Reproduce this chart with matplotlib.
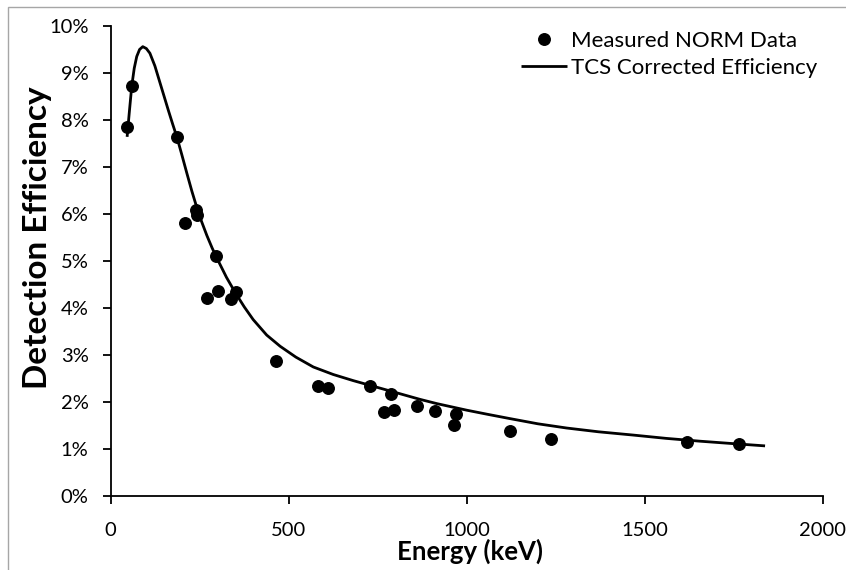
import matplotlib
matplotlib.use("Agg")
import matplotlib.pyplot as plt
from matplotlib.patches import Rectangle
from matplotlib.ticker import FuncFormatter

plt.rcParams['font.family'] = ['Lato', 'DejaVu Sans']

# measured NORM lines (keV) and efficiency (%)
energy_meas = [46.5, 59, 186, 209, 238.6, 241.9, 270, 295.2, 300, 338.3, 351.9,
               463, 583, 609.3, 727, 768, 786, 795, 860.6, 911.2, 964.8, 969,
               1120.3, 1238, 1620, 1764.5]
eff_meas = [7.86, 8.72, 7.63, 5.81, 6.08, 5.97, 4.20, 5.11, 4.36, 4.19, 4.34,
            2.87, 2.34, 2.29, 2.34, 1.79, 2.16, 1.82, 1.91, 1.80, 1.51, 1.73,
            1.38, 1.21, 1.15, 1.09]

# TCS corrected efficiency curve
energy_fit = [46, 52, 59, 66, 73, 81, 90, 100, 110, 124, 138, 150, 162, 174,
              186, 200, 214, 228, 240, 255, 270, 285, 300, 325, 350, 375, 400,
              438, 476, 520, 569, 625, 681, 728, 775, 822, 869, 916, 1000,
              1060, 1122, 1200, 1281, 1370, 1468, 1560, 1655, 1745, 1838]
eff_fit = [7.64, 8.15, 8.72, 9.10, 9.35, 9.50, 9.56, 9.52, 9.42, 9.15, 8.80,
           8.50, 8.20, 7.91, 7.63, 7.25, 6.86, 6.48, 6.18, 5.84, 5.54, 5.27,
           5.03, 4.65, 4.32, 4.02, 3.75, 3.42, 3.18, 2.95, 2.74, 2.58, 2.45,
           2.35, 2.25, 2.15, 2.05, 1.96, 1.82, 1.73, 1.64, 1.53, 1.44, 1.36,
           1.29, 1.22, 1.16, 1.11, 1.06]

fig = plt.figure(figsize=(8.46, 5.70), dpi=100)
ax = fig.add_axes([0.1309, 0.1304, 0.9725 - 0.1309, 0.9544 - 0.1304])

# thin grey chart-area border (only top and left fall inside the image)
fig.patches.append(Rectangle((7.5 / 846, -0.1), 1.2, 1.1 - 7 / 570,
                             transform=fig.transFigure, fill=False,
                             edgecolor='#a6a6a6', linewidth=1.0))

ax.plot(energy_meas, eff_meas, 'o', color='black', markersize=8.3,
        label='Measured NORM Data', zorder=3)
ax.plot(energy_fit, eff_fit, '-', color='black', linewidth=2.0,
        solid_joinstyle='round', solid_capstyle='butt',
        label='TCS Corrected Efficiency', zorder=2)

ax.set_xlim(0, 2000)
ax.set_ylim(0, 10)
ax.set_xticks([0, 500, 1000, 1500, 2000])
ax.set_yticks(range(0, 11))
ax.yaxis.set_major_formatter(FuncFormatter(lambda v, p: f"{int(v)}%"))

for s in ['top', 'right']:
    ax.spines[s].set_visible(False)
for s in ['left', 'bottom']:
    ax.spines[s].set_linewidth(1.3)
ax.tick_params(axis='both', direction='out', length=6, width=1.3,
               labelsize=14.5)
ax.tick_params(axis='y', pad=10)
ax.tick_params(axis='x', pad=13)

fig.text(470 / 846, 1 - 551 / 570, 'Energy (keV)', fontsize=18.5,
         fontweight='bold', ha='center', va='center')
fig.text(37 / 846, 1 - 238 / 570, 'Detection Efficiency', fontsize=24,
         fontweight='bold', ha='center', va='center', rotation=90)

ax.legend(loc='upper left', frameon=False, fontsize=16, handlelength=2.05,
          handletextpad=0.2, labelspacing=0.3, borderpad=0, borderaxespad=0,
          bbox_to_anchor=(521 / 846, 1 - 31 / 570),
          bbox_transform=fig.transFigure)

fig.savefig('out.png', dpi=100)
